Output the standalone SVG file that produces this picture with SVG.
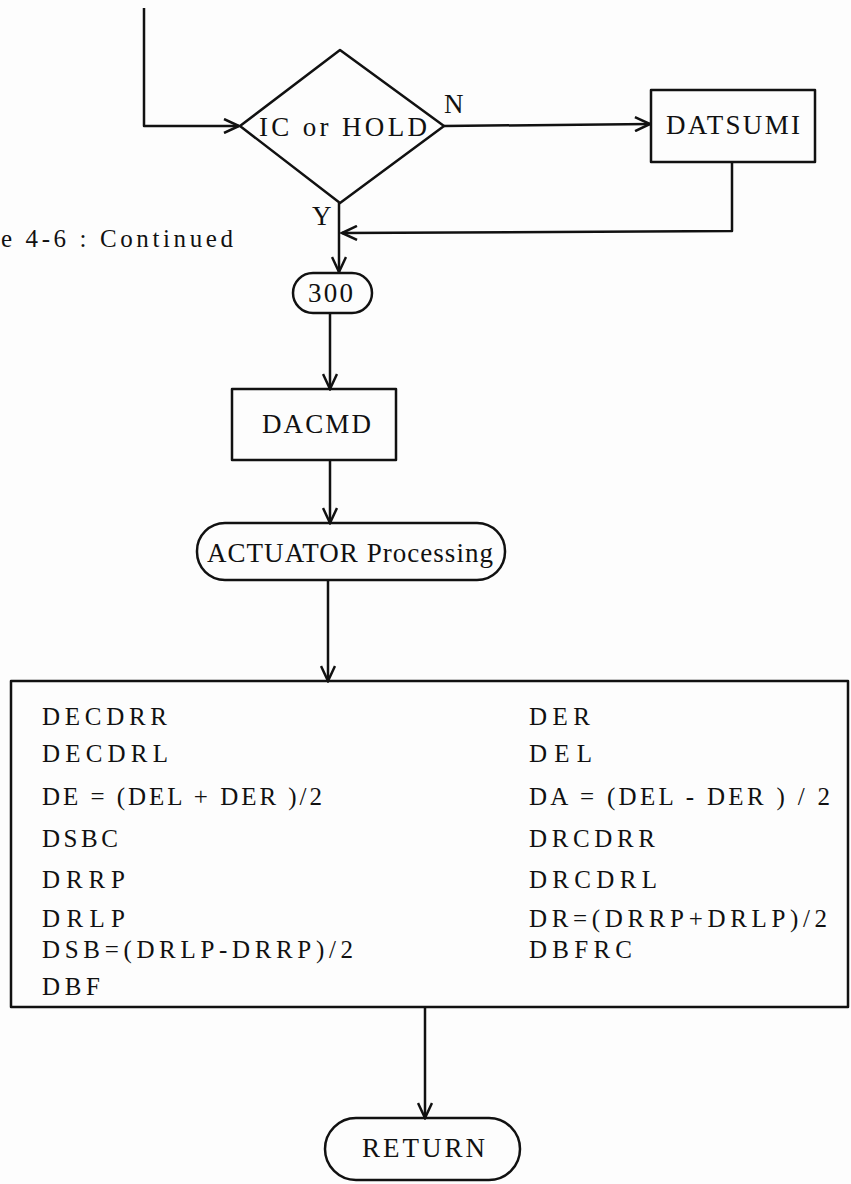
<svg xmlns="http://www.w3.org/2000/svg" width="851" height="1184" viewBox="0 0 851 1184">
<style>
.s{fill:none;stroke:#111;stroke-width:2.5;stroke-linejoin:round}
.t{font-family:"Liberation Serif","Times New Roman",serif;fill:#111}
.b{font-size:25px}
.l{font-size:27px}
</style>
<defs>
<marker id="a" markerUnits="userSpaceOnUse" markerWidth="18" markerHeight="16" refX="16" refY="8" orient="auto">
<path d="M1,1 L16,8 L1,15" fill="none" stroke="#111" stroke-width="2.5"/>
</marker>
</defs>
<rect width="851" height="1184" fill="#fdfdfd"/>
<g id="connectors" class="s">
<polyline points="144,8 144,126 239,126" marker-end="url(#a)"/>
<line x1="444" y1="126" x2="650" y2="124" marker-end="url(#a)"/>
<polyline points="732,163 732,231 342,233" marker-end="url(#a)"/>
<line x1="339" y1="203" x2="339" y2="272" marker-end="url(#a)"/>
<line x1="330" y1="313" x2="330" y2="389" marker-end="url(#a)"/>
<line x1="330" y1="460" x2="330" y2="523" marker-end="url(#a)"/>
<line x1="328" y1="580" x2="328" y2="681" marker-end="url(#a)"/>
<line x1="425" y1="1008" x2="425" y2="1118" marker-end="url(#a)"/>
</g>
<g id="caption">
<text class="t" x="1" y="247" font-size="25" textLength="232" lengthAdjust="spacing">e 4-6 : Continued</text>
</g>
<g id="decision">
<polygon class="s" points="340,50 444,126 340,203 240,126"/>
<text class="t l" x="259" y="136" textLength="168" lengthAdjust="spacing">IC or HOLD</text>
<text class="t l" x="444" y="113">N</text>
<text class="t l" x="312" y="225">Y</text>
</g>
<g id="datsumi">
<rect class="s" x="651" y="90" width="164" height="72"/>
<text class="t l" x="666" y="134" textLength="134" lengthAdjust="spacing">DATSUMI</text>
</g>
<g id="n300">
<rect class="s" x="293" y="273" width="79" height="40" rx="20"/>
<text class="t l" x="308" y="302" textLength="45" lengthAdjust="spacing">300</text>
</g>
<g id="dacmd">
<rect class="s" x="232" y="389" width="164" height="71"/>
<text class="t l" x="262" y="433" textLength="109" lengthAdjust="spacing">DACMD</text>
</g>
<g id="actuator">
<rect class="s" x="197" y="523" width="308" height="57" rx="28"/>
<text class="t l" x="207" y="562" textLength="286" lengthAdjust="spacing">ACTUATOR Processing</text>
</g>
<g id="outputs">
<rect class="s" x="11" y="681" width="837" height="326"/>
<g class="t b">
<text x="42" y="725" textLength="125" lengthAdjust="spacing">DECDRR</text>
<text x="42" y="762" textLength="126" lengthAdjust="spacing">DECDRL</text>
<text x="42" y="805" textLength="280" lengthAdjust="spacing">DE = (DEL + DER )/2</text>
<text x="42" y="847" textLength="76" lengthAdjust="spacing">DSBC</text>
<text x="42" y="888" textLength="83" lengthAdjust="spacing">DRRP</text>
<text x="42" y="927" textLength="83" lengthAdjust="spacing">DRLP</text>
<text x="42" y="958" textLength="311" lengthAdjust="spacing">DSB=(DRLP-DRRP)/2</text>
<text x="42" y="995" textLength="58" lengthAdjust="spacing">DBF</text>
<text x="529" y="725" textLength="61" lengthAdjust="spacing">DER</text>
<text x="529" y="762" textLength="63" lengthAdjust="spacing">DEL</text>
<text x="529" y="805" textLength="301" lengthAdjust="spacing">DA = (DEL - DER ) / 2</text>
<text x="529" y="847" textLength="126" lengthAdjust="spacing">DRCDRR</text>
<text x="529" y="888" textLength="128" lengthAdjust="spacing">DRCDRL</text>
<text x="529" y="927" textLength="298" lengthAdjust="spacing">DR=(DRRP+DRLP)/2</text>
<text x="529" y="958" textLength="103" lengthAdjust="spacing">DBFRC</text>
</g>
</g>
<g id="return">
<rect class="s" x="325" y="1118" width="195" height="62" rx="31"/>
<text class="t l" x="362" y="1157" textLength="123" lengthAdjust="spacing">RETURN</text>
</g>
</svg>
